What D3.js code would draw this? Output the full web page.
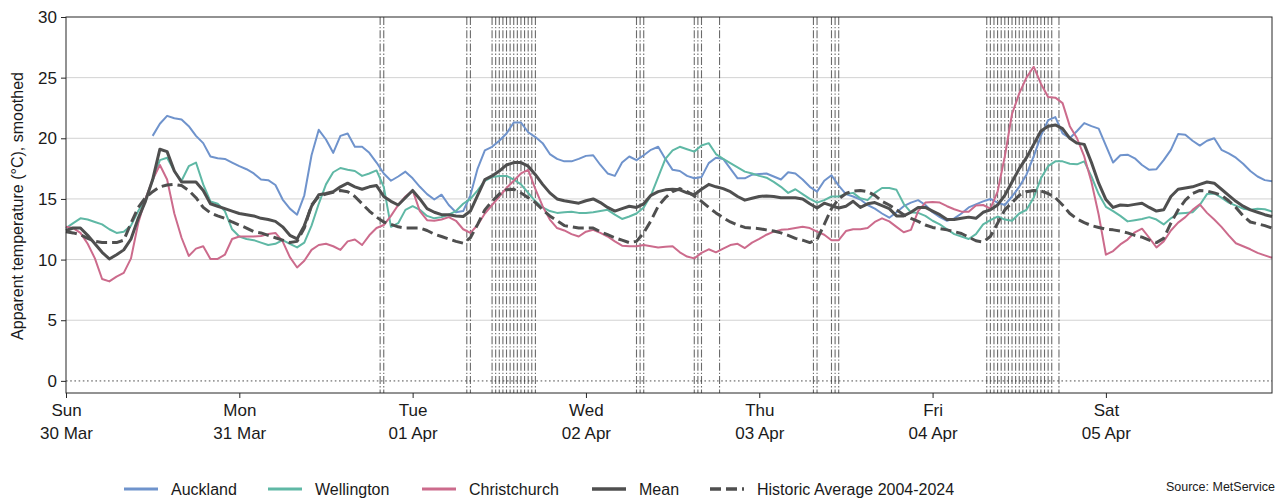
<!DOCTYPE html>
<html>
<head>
<meta charset="utf-8">
<script src="https://cdn.jsdelivr.net/npm/d3@7"></script>
<style>
  html, body { margin: 0; padding: 0; background: #ffffff; }
  svg { display: block; font-family: "Liberation Sans", Arial, Helvetica, sans-serif; }
</style>
</head>
<body>
<svg id="chart" width="1287" height="499"></svg>
<script>
// Hourly smoothed apparent temperature (°C), Sun 30 Mar 00:00 to Sat 05 Apr 23:00
const startTime = Date.UTC(2025, 2, 30, 0, 0);

const auckland = [
  null, null, null, null, null, null, null, null, null, null, null, null,
  20.2, 21.2, 21.85, 21.65, 21.55, 21.0, 20.2, 19.6, 18.5, 18.35, 18.3, 18.0,
  17.7, 17.45, 17.1, 16.6, 16.55, 16.15, 14.95, 14.2, 13.7, 15.3, 18.6, 20.7, 19.9, 18.8, 20.2, 20.4, 19.3, 19.3, 18.8, 18.0, 17.1, 16.5, 16.85, 17.25,
  16.7, 16.0, 15.4, 14.95, 15.35, 14.5, 13.9, 14.0, 15.3, 17.5, 19.0, 19.3, 19.8, 20.4, 21.3, 21.3, 20.5, 20.1, 19.6, 18.7, 18.3, 18.1, 18.1, 18.3,
  18.55, 18.6, 17.8, 17.1, 16.9, 18.0, 18.5, 18.2, 18.6, 19.05, 19.3, 18.3, 17.4, 17.3, 16.9, 16.7, 16.8, 17.95, 18.4, 18.3, 17.5, 16.7, 16.7, 17.0,
  17.05, 17.1, 16.85, 16.6, 17.2, 17.1, 16.6, 16.0, 15.6, 16.5, 16.95, 16.1, 15.4, 15.2, 14.95, 14.5, 14.2, 13.8, 13.45, 13.9, 14.4, 14.7, 14.9, 14.5,
  13.9, 13.5, 13.2, 13.4, 13.8, 14.3, 14.55, 14.8, 15.0, 14.7, 14.5, 15.2, 16.0, 17.0, 18.5, 20.2, 21.5, 21.75, 20.4, 20.0, 20.6, 21.25, 21.0, 20.8,
  19.4, 18.0, 18.6, 18.65, 18.35, 17.8, 17.4, 17.45, 18.2, 19.05, 20.35, 20.3, 19.8, 19.4, 19.8, 20.0, 19.05, 18.75, 18.4, 17.9, 17.3, 16.85, 16.55, 16.45
];

const wellington = [
  12.6, 13.0, 13.4, 13.3, 13.1, 12.9, 12.5, 12.2, 12.3, 12.8, 14.0, 15.0, 16.5, 18.2, 18.4, 17.3, 16.5, 17.7, 18.0, 16.2, 14.8, 14.6, 14.0, 12.5,
  11.9, 11.7, 11.6, 11.4, 11.2, 11.3, 11.6, 11.3, 11.0, 11.4, 12.8, 14.6, 16.2, 17.2, 17.55, 17.4, 17.3, 16.9, 17.1, 17.35, 16.0, 12.7, 13.0, 14.1,
  14.4, 14.1, 13.6, 13.4, 13.5, 13.7, 14.0, 14.6, 15.0, 15.7, 16.5, 16.8, 16.9, 16.9, 16.6, 16.2, 15.5, 14.8, 14.3, 14.0, 13.85, 13.9, 13.95, 13.85,
  13.85, 13.9, 14.0, 14.1, 13.7, 13.35, 13.55, 13.8, 14.3, 15.3, 16.8, 18.3, 19.0, 19.3, 19.1, 18.9, 19.4, 19.6, 18.7, 18.3, 17.95, 17.6, 17.25, 17.1,
  16.9, 16.75, 16.4, 16.0, 15.5, 15.8, 15.4, 15.0, 14.7, 14.9, 15.2, 15.2, 15.4, 15.5, 15.05, 14.9, 15.5, 15.9, 15.9, 15.75, 14.6, 13.9, 13.85, 13.6,
  13.2, 12.9, 12.5, 12.1, 11.9, 11.7, 12.1, 12.9, 13.25, 13.55, 13.3, 13.2, 13.8, 14.1, 15.1, 16.7, 17.7, 18.1, 18.1, 17.9, 17.85, 18.1, 16.85, 15.4,
  14.35, 14.0, 13.6, 13.15, 13.25, 13.35, 13.5, 13.3, 12.9, 13.4, 13.8, 13.85, 13.9, 14.5, 15.4, 15.45, 15.1, 14.7, 14.45, 14.2, 14.1, 14.2, 14.15, 13.95
];

const christchurch = [
  12.7, 12.6, 12.2, 11.3, 10.1, 8.4, 8.2, 8.6, 8.9, 10.1, 13.0, 15.0, 16.6, 17.8, 16.6, 13.8, 11.8, 10.3, 10.9, 11.1, 10.05, 10.05, 10.4, 11.7,
  11.9, 11.9, 11.9, 11.95, 12.1, 12.2, 11.5, 10.2, 9.35, 9.9, 10.8, 11.2, 11.3, 11.1, 10.8, 11.5, 11.65, 11.2, 12.0, 12.6, 12.85, 13.6, 14.5, 15.2,
  15.7, 14.0, 13.25, 13.2, 13.3, 13.5, 13.2, 12.5, 12.2, 12.85, 13.8, 14.5, 15.2, 15.9, 16.5, 17.1, 17.4, 15.8, 14.4, 13.3, 12.6, 12.4, 12.1, 11.9,
  12.3, 12.45, 12.2, 11.9, 11.5, 11.15, 11.1, 11.1, 11.2, 11.1, 11.0, 11.05, 11.1, 10.6, 10.25, 10.1, 10.55, 10.85, 10.6, 10.9, 11.2, 11.3, 10.95, 11.4,
  11.7, 12.05, 12.3, 12.45, 12.5, 12.6, 12.7, 12.6, 12.3, 12.05, 11.6, 11.6, 12.35, 12.5, 12.5, 12.6, 13.1, 13.4, 13.15, 12.7, 12.25, 12.45, 14.0, 14.7,
  14.75, 14.7, 14.4, 14.15, 13.95, 13.95, 14.45, 14.5, 14.2, 15.6, 18.5, 22.0, 23.7, 25.0, 25.9, 24.5, 23.4, 23.35, 22.9, 21.0, 20.0, 18.5, 16.4, 13.7,
  10.4, 10.7, 11.25, 11.65, 12.25, 12.55, 11.8, 11.0, 11.5, 12.4, 13.05, 13.5, 14.1, 14.55, 13.85, 13.3, 12.7, 12.0, 11.35, 11.1, 10.85, 10.55, 10.35, 10.15
];

const mean = [
  12.4, 12.6, 12.6, 12.0, 11.3, 10.6, 10.05, 10.4, 10.8, 11.7, 13.4, 14.8, 16.6, 19.1, 18.9, 17.3, 16.4, 16.4, 16.4, 15.7, 14.6, 14.4, 14.2, 14.0,
  13.8, 13.7, 13.6, 13.4, 13.3, 13.15, 12.7, 12.0, 11.7, 12.8, 14.4, 15.35, 15.45, 15.6, 16.0, 16.3, 16.0, 15.8, 16.0, 16.1, 15.2, 14.8, 14.5, 15.1,
  15.7, 15.0, 14.2, 13.9, 13.7, 13.7, 13.6, 13.55, 14.0, 15.3, 16.6, 16.9, 17.3, 17.8, 18.0, 18.0, 17.7, 17.0, 16.2, 15.5, 15.0, 14.85, 14.75, 14.65,
  14.85, 15.0, 14.7, 14.3, 14.0, 14.2, 14.4, 14.3, 14.6, 15.3, 15.6, 15.75, 15.8, 15.75, 15.5, 15.35, 15.8, 16.2, 16.0, 15.85, 15.6, 15.2, 14.9, 15.05,
  15.2, 15.25, 15.2, 15.1, 15.1, 15.1, 15.0, 14.6, 14.25, 14.65, 14.45, 14.25, 14.4, 14.8, 14.3, 14.6, 14.7, 14.45, 14.2, 13.6, 13.6, 13.9, 14.3, 14.3,
  14.0, 13.7, 13.3, 13.3, 13.4, 13.5, 13.4, 13.9, 14.1, 14.5, 15.3, 16.4, 17.5, 18.4, 19.5, 20.6, 21.0, 21.1, 20.8, 20.0, 19.6, 19.5, 18.0, 16.3,
  14.95, 14.3, 14.5, 14.45, 14.55, 14.65, 14.3, 14.0, 14.1, 15.2, 15.8, 15.9, 16.0, 16.2, 16.4, 16.3, 15.8, 15.3, 14.8, 14.4, 14.1, 13.9, 13.7, 13.55
];

const historic = [
  12.3, 12.2, 12.05, 11.75, 11.5, 11.4, 11.4, 11.4, 11.6, 13.0, 14.3, 15.1, 15.6, 16.0, 16.15, 16.2, 16.1, 15.7, 15.1, 14.3, 13.85, 13.6, 13.4, 13.1,
  12.85, 12.6, 12.3, 12.2, 12.0, 11.8, 11.6, 11.4, 11.5, 12.6, 14.5, 15.2, 15.4, 15.55, 15.7, 15.6, 15.2, 14.6, 14.0, 13.5, 13.1, 12.9, 12.7, 12.6,
  12.6, 12.6, 12.4, 12.1, 11.9, 11.7, 11.5, 11.35, 11.8, 12.9, 14.1, 14.8, 15.4, 15.75, 15.8, 15.5, 15.1, 14.7, 14.1, 13.6, 13.2, 12.8, 12.7, 12.6,
  12.6, 12.6, 12.3, 12.05, 11.8, 11.6, 11.4, 11.5, 12.2, 13.2, 14.4, 15.1, 15.6, 15.85, 15.6, 15.25, 14.8, 14.3, 13.85, 13.45, 13.1, 12.85, 12.65, 12.6,
  12.55, 12.45, 12.35, 12.2, 12.0, 11.75, 11.6, 11.4, 11.65, 12.9, 14.2, 15.0, 15.45, 15.65, 15.7, 15.6, 15.3, 14.8, 14.5, 14.1, 13.7, 13.4, 13.15, 12.85,
  12.65, 12.55, 12.45, 12.3, 12.15, 11.85, 11.55, 11.45, 11.9, 13.0, 14.1, 14.7, 15.3, 15.6, 15.7, 15.65, 15.45, 15.1, 14.5, 13.8, 13.35, 13.05, 12.8, 12.65,
  12.5, 12.45, 12.35, 12.2, 12.0, 11.85, 11.6, 11.4, 11.75, 13.0, 14.1, 14.9, 15.45, 15.7, 15.65, 15.5, 15.3, 14.85, 14.3, 13.6, 13.1, 12.95, 12.8, 12.6
];

// Times flagged with vertical dash-dot markers
const markerTimes = [
  "2025-03-31T19:30", "2025-03-31T20:00",
  "2025-04-01T07:30", "2025-04-01T08:00",
  "2025-04-01T11:00", "2025-04-01T11:30", "2025-04-01T12:00", "2025-04-01T12:30", "2025-04-01T13:00",
  "2025-04-01T13:30", "2025-04-01T14:00", "2025-04-01T14:30", "2025-04-01T15:00", "2025-04-01T15:30",
  "2025-04-01T16:00", "2025-04-01T16:30", "2025-04-01T17:00",
  "2025-04-02T07:00", "2025-04-02T07:30", "2025-04-02T08:00",
  "2025-04-02T15:00", "2025-04-02T15:30", "2025-04-02T16:00",
  "2025-04-02T18:30",
  "2025-04-03T07:30", "2025-04-03T08:00",
  "2025-04-03T10:00", "2025-04-03T10:30", "2025-04-03T11:00",
  "2025-04-04T07:30", "2025-04-04T08:00", "2025-04-04T08:30", "2025-04-04T09:00", "2025-04-04T09:30",
  "2025-04-04T10:00", "2025-04-04T10:30", "2025-04-04T11:00", "2025-04-04T11:30", "2025-04-04T12:00",
  "2025-04-04T12:30", "2025-04-04T13:00", "2025-04-04T13:30", "2025-04-04T14:00", "2025-04-04T14:30",
  "2025-04-04T15:00", "2025-04-04T15:30", "2025-04-04T16:00", "2025-04-04T16:30", "2025-04-04T17:30"
];

const yTicks = [0, 5, 10, 15, 20, 25, 30];
const gridValues = [5, 10, 15, 20, 25];

const seriesList = [
  { name: "Auckland", values: auckland, color: "#6f93cc", width: 2, dash: null },
  { name: "Wellington", values: wellington, color: "#5fb8a5", width: 2, dash: null },
  { name: "Christchurch", values: christchurch, color: "#cc6b8c", width: 2, dash: null },
  { name: "Mean", values: mean, color: "#4f4f4f", width: 3, dash: null },
  { name: "Historic Average 2004-2024", values: historic, color: "#4f4f4f", width: 3, dash: "11,5" }
];

const svg = d3.select("#chart");
const plot = { left: 66, right: 1272, top: 17, bottom: 393 };

const hourTime = i => new Date(startTime + i * 3600 * 1000);
const endTime = hourTime(mean.length - 1);

const x = d3.scaleUtc().domain([new Date(startTime), endTime]).range([plot.left, plot.right]);
const y = d3.scaleLinear().domain([-1, 30]).range([plot.bottom, plot.top]);

// Horizontal grid
svg.append("g").selectAll("line").data(gridValues).join("line")
  .attr("x1", plot.left).attr("x2", plot.right)
  .attr("y1", d => y(d)).attr("y2", d => y(d))
  .attr("stroke", "#d2d2d2").attr("stroke-width", 1);

// Dotted zero line
svg.append("line")
  .attr("x1", plot.left).attr("x2", plot.right)
  .attr("y1", y(0)).attr("y2", y(0))
  .attr("stroke", "#9a9a9a").attr("stroke-width", 1.6)
  .attr("stroke-dasharray", "1.6,2.6");

// Vertical markers
const parseMarker = s => {
  const [d, t] = s.split("T");
  const [yy, mm, dd] = d.split("-").map(Number);
  const [hh, mi] = t.split(":").map(Number);
  return new Date(Date.UTC(yy, mm - 1, dd, hh, mi));
};
svg.append("g").selectAll("line").data(markerTimes.map(parseMarker)).join("line")
  .attr("x1", d => x(d)).attr("x2", d => x(d))
  .attr("y1", plot.top).attr("y2", plot.bottom)
  .attr("stroke", "#3a3a3a").attr("stroke-opacity", 0.75)
  .attr("stroke-width", 1.1)
  .attr("stroke-dasharray", "8,2,1.3,2");

// Series lines
const line = d3.line()
  .defined(d => d != null)
  .x((d, i) => x(hourTime(i)))
  .y(d => y(d));

svg.append("g").selectAll("path").data(seriesList).join("path")
  .attr("d", s => line(s.values))
  .attr("fill", "none")
  .attr("stroke", s => s.color)
  .attr("stroke-width", s => s.width)
  .attr("stroke-dasharray", s => s.dash)
  .attr("stroke-linejoin", "round")
  .attr("stroke-linecap", "butt");

// Frame
svg.append("rect")
  .attr("x", plot.left).attr("y", plot.top)
  .attr("width", plot.right - plot.left).attr("height", plot.bottom - plot.top)
  .attr("fill", "none").attr("stroke", "#262626").attr("stroke-width", 1);

// Y axis
const yAxis = d3.axisLeft(y).tickValues(yTicks).tickSize(5).tickPadding(4);
const gy = svg.append("g").attr("transform", `translate(${plot.left},0)`).call(yAxis);
gy.select(".domain").remove();
gy.selectAll(".tick line").attr("stroke", "#262626");
gy.selectAll(".tick text")
  .attr("font-family", "Liberation Sans, Arial, sans-serif")
  .attr("font-size", 17).attr("fill", "#1a1a1a");

// X axis with weekday and date on two rows
const xAxis = d3.axisBottom(x).ticks(d3.utcDay.every(1)).tickSize(5).tickFormat("");
const gx = svg.append("g").attr("transform", `translate(0,${plot.bottom})`).call(xAxis);
gx.select(".domain").remove();
gx.selectAll(".tick line").attr("stroke", "#262626");
const fmtDay = d3.utcFormat("%a");
const fmtDate = d3.utcFormat("%d %b");
gx.selectAll(".tick").each(function(d) {
  const t = d3.select(this).append("text")
    .attr("fill", "#1a1a1a")
    .attr("font-family", "Liberation Sans, Arial, sans-serif")
    .attr("font-size", 17)
    .attr("text-anchor", "middle");
  t.append("tspan").attr("x", 0).attr("y", 23).text(fmtDay(d));
  t.append("tspan").attr("x", 0).attr("y", 46).text(fmtDate(d));
});

// Y axis title
svg.append("text")
  .attr("transform", `translate(23,${(plot.top + plot.bottom) / 2 + 1}) rotate(-90)`)
  .attr("text-anchor", "middle")
  .attr("font-size", 16).attr("fill", "#1a1a1a")
  .text("Apparent temperature (°C), smoothed");

// Legend
const legendX = [124, 268, 422, 592, 710];
const legend = svg.append("g");
seriesList.forEach((s, i) => {
  const g = legend.append("g").attr("transform", `translate(${legendX[i]},489)`);
  g.append("line").attr("x1", 0).attr("x2", 34).attr("y1", 0).attr("y2", 0)
    .attr("stroke", s.color).attr("stroke-width", s.width === 3 ? 3.5 : 3)
    .attr("stroke-dasharray", s.dash ? "11,5" : null);
  g.append("text").attr("x", 47).attr("y", 5.5)
    .attr("font-size", 16).attr("fill", "#1a1a1a")
    .text(s.name);
});

// Source note
svg.append("text")
  .attr("x", 1275).attr("y", 490.5)
  .attr("text-anchor", "end")
  .attr("font-size", 12.5).attr("fill", "#1a1a1a")
  .text("Source: MetService");
</script>
</body>
</html>
